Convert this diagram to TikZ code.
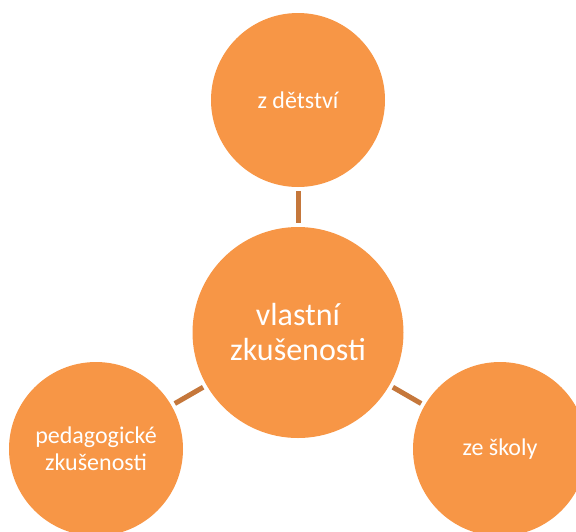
\documentclass[tikz,border=0pt]{standalone}
\usepackage{fontspec}
\setmainfont{Carlito}
\definecolor{circfill}{HTML}{F79646}
\definecolor{connc}{HTML}{C5773B}
\begin{document}
\begin{tikzpicture}[x=1pt,y=-1pt,
  outer/.style={circle,fill=circfill,draw=none,minimum size=174pt,inner sep=0pt,outer sep=0pt,text=white,align=center,font=\fontsize{24}{27}\selectfont},
  hub/.style={circle,fill=circfill,draw=none,minimum size=211pt,inner sep=0pt,outer sep=0pt,text=white,align=center,font=\fontsize{32}{35}\selectfont},
  conn/.style={draw=connc,line width=5pt,shorten >=4pt,shorten <=4pt}]
\clip (0,0) rectangle (576,531);
\node[hub] (c) at (298,332.5) {vlastní\\zkušenosti};
\node[outer] (t) at (298,100) {z dětství};
\node[outer] (l) at (96,449) {pedagogické\\zkušenosti};
\node[outer] (r) at (500,449) {ze školy};
\draw[conn] (t) -- (c);
\draw[conn] (c) -- (l);
\draw[conn] (c) -- (r);
\end{tikzpicture}
\end{document}
